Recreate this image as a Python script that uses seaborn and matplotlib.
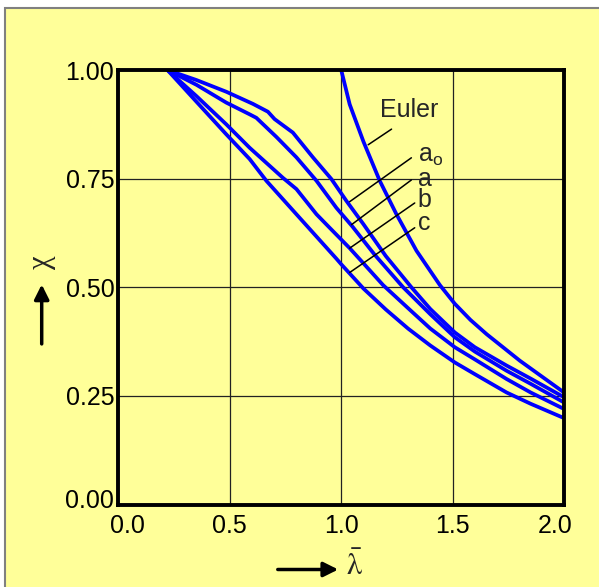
import numpy as np
import pandas as pd
import matplotlib
matplotlib.use('Agg')
import matplotlib.pyplot as plt
import seaborn as sns
from matplotlib.patches import Rectangle, FancyArrowPatch
from matplotlib.transforms import ScaledTranslation

# buckling curves
lam_a0 = [0.22, 0.35, 0.484, 0.604, 0.671, 0.701, 0.783, 0.873, 0.956, 1.023,
          1.1, 1.2, 1.315, 1.4, 1.51, 1.6, 1.742, 1.85, 2.0]
chi_a0 = [1.0, 0.977, 0.950, 0.922, 0.904, 0.887, 0.856, 0.799, 0.749, 0.699,
          0.645, 0.572, 0.500, 0.450, 0.396, 0.362, 0.320, 0.290, 0.247]
lam_a = [0.22, 0.35, 0.484, 0.589, 0.619, 0.709, 0.799, 0.889, 0.978, 1.05,
         1.15, 1.278, 1.4, 1.51, 1.6, 1.742, 1.85, 2.0]
chi_a = [1.0, 0.966, 0.925, 0.898, 0.890, 0.846, 0.799, 0.745, 0.683, 0.640,
         0.575, 0.500, 0.438, 0.385, 0.352, 0.308, 0.278, 0.235]
lam_b = [0.22, 0.35, 0.484, 0.589, 0.738, 0.799, 0.889, 0.948, 1.038, 1.1,
         1.188, 1.3, 1.4, 1.51, 1.6, 1.742, 1.85, 2.0]
chi_b = [1.0, 0.940, 0.875, 0.821, 0.752, 0.726, 0.668, 0.637, 0.590, 0.555,
         0.505, 0.452, 0.405, 0.362, 0.334, 0.289, 0.258, 0.220]
lam_c = [0.22, 0.35, 0.484, 0.589, 0.664, 0.813, 0.978, 1.0, 1.1, 1.2,
         1.3, 1.4, 1.51, 1.6, 1.742, 1.85, 2.0]
chi_c = [1.0, 0.927, 0.852, 0.795, 0.745, 0.660, 0.566, 0.553, 0.497, 0.449,
         0.405, 0.366, 0.327, 0.300, 0.258, 0.232, 0.199]
lam_euler = [1.0, 1.038, 1.1, 1.173, 1.248, 1.338, 1.443, 1.51, 1.58, 1.653, 1.802, 2.0]
chi_euler = [1.0, 0.921, 0.835, 0.745, 0.668, 0.584, 0.505, 0.462, 0.425, 0.392, 0.331, 0.258]

curve_names = ['Euler', 'a$_{\\mathrm{o}}$', 'a', 'b', 'c']
# pointer lines (start on curve, end at label) and label anchor
ptr_start_x = [1.121, 1.038, 1.046, 1.038, 1.038]
ptr_start_y = [0.828, 0.697, 0.644, 0.590, 0.534]
ptr_end_x = [1.226, 1.315, 1.315, 1.330, 1.330]
ptr_end_y = [0.864, 0.798, 0.747, 0.694, 0.637]
label_x = [1.172, 1.344, 1.344, 1.344, 1.344]
label_y = [0.908, 0.802, 0.750, 0.700, 0.648]

x_ticks = [0.0, 0.5, 1.0, 1.5, 2.0]
y_ticks = [0.00, 0.25, 0.50, 0.75, 1.00]

frames = []
for name, xs, ys in [('a0', lam_a0, chi_a0), ('a', lam_a, chi_a), ('b', lam_b, chi_b),
                     ('c', lam_c, chi_c), ('Euler', lam_euler, chi_euler)]:
    frames.append(pd.DataFrame({'lam': xs, 'chi': ys, 'curve': name}))
df = pd.concat(frames, ignore_index=True)

yellow = '#ffff99'
sns.set_theme(style='ticks')
plt.rcParams['font.family'] = ['Liberation Sans', 'DejaVu Sans']
plt.rcParams['mathtext.fontset'] = 'custom'
plt.rcParams['mathtext.rm'] = 'Liberation Sans'

fig = plt.figure(figsize=(5.99, 5.87), dpi=100, facecolor='white')
fig.patches.append(Rectangle((4.5 / 599, -0.05), 1.0, 1.05 - 7.5 / 587,
                             transform=fig.transFigure, facecolor=yellow,
                             edgecolor='#808080', lw=1.5, zorder=-5))
ax = fig.add_axes([0.1978, 0.1405, 0.7437, 0.7402])
ax.set_zorder(2)
ax.set_facecolor(yellow)

sns.lineplot(data=df, x='lam', y='chi', hue='curve', units='curve', estimator=None,
             palette={k: '#0000ff' for k in df['curve'].unique()},
             lw=2.7, legend=False, ax=ax, zorder=3)
for ln in ax.get_lines():
    ln.set_solid_joinstyle('round')
    ln.set_solid_capstyle('round')

for i, name in enumerate(curve_names):
    ax.plot([ptr_start_x[i], ptr_end_x[i]], [ptr_start_y[i], ptr_end_y[i]],
            color='black', lw=1.1, zorder=4)
    ax.text(label_x[i], label_y[i], name, fontsize=18, ha='left', va='center', zorder=5)

ax.set_xlim(0, 2)
ax.set_ylim(0, 1)
ax.set_xticks(x_ticks)
ax.set_yticks(y_ticks)
ax.set_xticklabels([f'{v:.1f}' for v in x_ticks])
ax.set_yticklabels([f'{v:.2f}' for v in y_ticks])
ax.tick_params(length=0, labelsize=18, colors='black')
ax.tick_params(axis='x', pad=7)
ax.tick_params(axis='y', pad=3)
ax.grid(True, color='#222222', lw=0.9)
for s in ax.spines.values():
    s.set_linewidth(2.8)
    s.set_color('black')
    s.set_zorder(6)
ax.set_xlabel('')
ax.set_ylabel('')

# end tick labels sit a little inward in the reference
xl = ax.get_xticklabels()
xl[0].set_transform(xl[0].get_transform() + ScaledTranslation(9 / 100, 0, fig.dpi_scale_trans))
xl[-1].set_transform(xl[-1].get_transform() + ScaledTranslation(-9 / 100, 0, fig.dpi_scale_trans))
yl = ax.get_yticklabels()
yl[0].set_transform(yl[0].get_transform() + ScaledTranslation(0, 6 / 100, fig.dpi_scale_trans))

# axis arrows and symbols
fig.add_artist(FancyArrowPatch(
    (41.7 / 599, 1 - 346.7 / 587), (41.7 / 599, 1 - 281.7 / 587),
    transform=fig.transFigure, arrowstyle='-|>', mutation_scale=22, lw=2.5, color='black'))
fig.text(41.7 / 599, 1 - 261.7 / 587, '\u03c7', family=['Liberation Serif', 'DejaVu Serif'],
         fontsize=22, rotation=90, ha='center', va='center')
fig.add_artist(FancyArrowPatch(
    (275 / 599, 1 - 569.5 / 587), (341 / 599, 1 - 569.5 / 587),
    transform=fig.transFigure, arrowstyle='-|>', mutation_scale=22, lw=2.5, color='black'))
fig.text(354 / 599, 1 - 567 / 587, r'$\bar{\mathrm{\lambda}}$', math_fontfamily='stix',
         fontsize=22, ha='center', va='center')

plt.savefig('out.png', dpi=100, facecolor='white')
